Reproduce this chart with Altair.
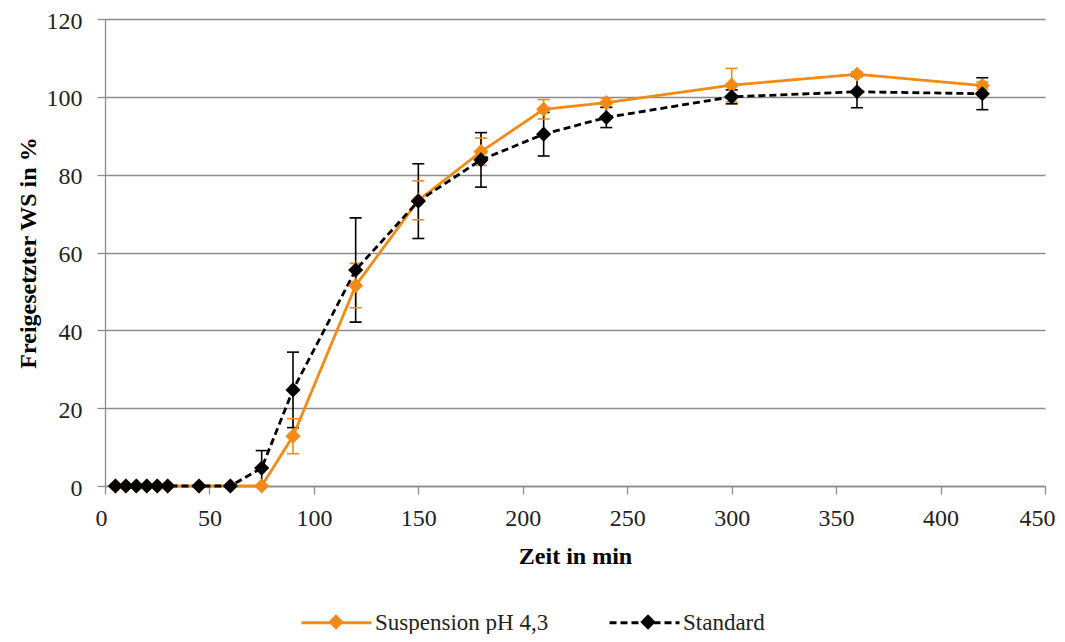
import altair as alt
import pandas as pd

# ---- data ----
times = [5, 10, 15, 20, 25, 30, 45, 60, 75, 90, 120, 150, 180, 210, 240, 300, 360, 420]
susp = [0, 0, 0, 0, 0, 0, 0, 0, 0, 12.8, 51.5, 73.4, 85.9, 96.8, 98.5, 103.0, 105.8, 102.9]
susp_err = [0, 0, 0, 0, 0, 0, 0, 0, 0, 4.5, 5.7, 5.0, 3.5, 2.5, 1.2, 4.3, 0.6, 1.0]
std = [0, 0, 0, 0, 0, 0, 0, 0, 4.6, 24.7, 55.5, 73.2, 83.8, 90.4, 94.7, 100.0, 101.3, 100.8]
std_err = [0, 0, 0, 0, 0, 0, 0, 0, 4.5, 9.7, 13.4, 9.6, 7.0, 5.6, 2.6, 1.8, 4.1, 4.1]

series_names = ["Suspension pH 4,3", "Standard"]
colors = ["#F28A16", "#000000"]
dashes = [[1, 0], [7, 4]]
x_ticks = [0, 50, 100, 150, 200, 250, 300, 350, 400, 450]
y_ticks = [0, 20, 40, 60, 80, 100, 120]

rows = []
for name, vals, errs in [(series_names[0], susp, susp_err), (series_names[1], std, std_err)]:
    for t, v, e in zip(times, vals, errs):
        rows.append({"series": name, "series2": name, "t": t, "v": v,
                     "lo": v - e, "hi": v + e, "err": e})
df = pd.DataFrame(rows)

FONT = "Liberation Serif"
LBL = "#222222"

color_scale = alt.Scale(domain=series_names, range=colors)
dash_scale = alt.Scale(domain=series_names, range=dashes)

x_axis = alt.Axis(values=x_ticks, title="Zeit in min", grid=False,
                  labelFlush=True, labelFlushOffset=10,
                  labelFont=FONT, labelFontSize=24, labelColor=LBL, labelPadding=12,
                  titlePadding=14)
y_axis = alt.Axis(values=y_ticks, title="Freigesetzter WS in %", grid=True, labelFlush=False,
                  labelFont=FONT, labelFontSize=24, labelColor=LBL, labelPadding=15,
                  labelOffset=2, titlePadding=6)
x_enc = alt.X("t:Q", scale=alt.Scale(domain=[0, 450], nice=False), axis=x_axis)
y_enc = alt.Y("v:Q", scale=alt.Scale(domain=[0, 120], nice=False), axis=y_axis)

base = alt.Chart(df)
err_data = base.transform_filter("datum.err > 0")

err_rule = err_data.mark_rule(strokeWidth=1.6, opacity=1).encode(
    x=x_enc, y="lo:Q", y2="hi:Q",
    stroke=alt.Stroke("series:N", scale=color_scale, legend=None),
)
cap_lo = err_data.mark_tick(orient="horizontal", size=12, thickness=1.6, opacity=1).encode(
    x=x_enc, y="lo:Q",
    fill=alt.Fill("series:N", scale=color_scale, legend=None),
)
cap_hi = err_data.mark_tick(orient="horizontal", size=12, thickness=1.6, opacity=1).encode(
    x=x_enc, y="hi:Q",
    fill=alt.Fill("series:N", scale=color_scale, legend=None),
)

LEG_X = 195
LEG_Y = 567
leg_base = dict(orient="none", legendX=LEG_X, legendY=LEG_Y, direction="horizontal",
                title=None, padding=0, symbolSize=4900, labelOffset=2,
                labelFont=FONT, labelFontSize=23, labelColor=LBL, labelLimit=400)

line_legend = alt.Legend(
    symbolType="M-1,0L1,0", symbolStrokeWidth=2.8, columnPadding=54,
    symbolDash={"expr": "datum.value === 'Standard' ? [7, 4] : [1, 0]"},
    **leg_base,
)

lines = base.mark_line(strokeWidth=2.8).encode(
    x=x_enc, y=y_enc,
    color=alt.Color("series:N", scale=color_scale, legend=line_legend),
    strokeDash=alt.StrokeDash("series:N", scale=dash_scale, legend=None),
    order="t:Q",
)

# diamond markers of the legend: same layout, no labels of their own
diamond_legend = alt.Legend(
    symbolType="M0,-0.22L0.22,0L0,0.22L-0.22,0Z", symbolOpacity=1,
    labelExpr="''", columnPadding=238, **leg_base,
)

points = base.mark_point(filled=True, shape="diamond", size=230, opacity=1).encode(
    x=x_enc, y=y_enc,
    color=alt.Color("series2:N", scale=alt.Scale(domain=series_names, range=colors),
                    legend=diamond_legend),
)

chart = alt.layer(err_rule, cap_lo, cap_hi, lines, points).resolve_scale(
    color="independent"
).properties(
    width=940, height=467,
    autosize=alt.AutoSizeParams(type="none"),
    padding={"left": 97, "top": 11, "right": 12, "bottom": 148},
).configure_view(stroke=None).configure_axis(
    titleFont=FONT, titleFontSize=24, titleFontWeight="bold", titleColor="#000000",
    domainColor="#8c8c8c", domainWidth=1.3, tickColor="#8c8c8c", tickWidth=1.3,
    tickSize=8, gridColor="#8c8c8c", gridWidth=1.3,
)

chart.save("out.html", embed_options={"renderer": "svg", "actions": False})
